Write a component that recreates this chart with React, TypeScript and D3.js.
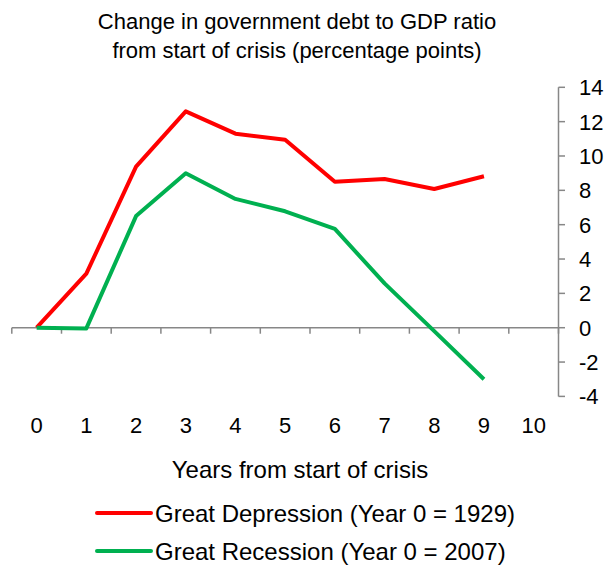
import React from "react";
import * as d3 from "d3";

const years = ["0", "1", "2", "3", "4", "5", "6", "7", "8", "9", "10"];
const depression = [0, 3.15, 9.38, 12.6, 11.3, 10.95, 8.5, 8.66, 8.08, 8.82];
const recession = [0, -0.04, 6.5, 9.0, 7.5, 6.78, 5.75, 2.58, -0.2, -3.0];
const yTicks = [-4, -2, 0, 2, 4, 6, 8, 10, 12, 14];
const seriesNames = ["Great Depression (Year 0 = 1929)", "Great Recession (Year 0 = 2007)"];
const seriesColors = ["#ff0000", "#00b050"];

export default function App() {
  const W = 616, H = 569;
  const x = d3.scaleBand<string>().domain(years).range([11.8, 558.5]);
  const y = d3.scaleLinear().domain([-4, 14]).range([396.4, 87.3]);
  const font = "Liberation Sans, Arial, sans-serif";
  const line = d3
    .line<number>()
    .x((_, i) => (x(years[i]) as number) + x.bandwidth() / 2)
    .y((d) => y(d));
  const series = [depression, recession];
  const axisColor = "#878787";
  return (
    <svg width={W} height={H} style={{ position: "absolute", left: 0, top: 0 }} fontFamily={font}>
      <rect width={W} height={H} fill="#fff" />
      <text x={297} y={29} textAnchor="middle" fontSize={22} fill="#000">
        Change in government debt to GDP ratio
      </text>
      <text x={297} y={58} textAnchor="middle" fontSize={22} fill="#000">
        from start of crisis (percentage points)
      </text>
      {/* x axis at 0 */}
      <line x1={x.range()[0]} x2={x.range()[1]} y1={y(0)} y2={y(0)} stroke={axisColor} strokeWidth={1.5} />
      {years.concat(["end"]).map((_, i) => {
        const xx = x.range()[0] + i * x.step();
        return <line key={"xt" + i} x1={xx} x2={xx} y1={y(0)} y2={y(0) + 6} stroke={axisColor} strokeWidth={1.5} />;
      })}
      {/* y axis */}
      <line x1={558.5} x2={558.5} y1={y(14)} y2={y(-4)} stroke={axisColor} strokeWidth={1.5} />
      {yTicks.map((t) => (
        <g key={"yt" + t}>
          <line x1={558.5} x2={565} y1={y(t)} y2={y(t)} stroke={axisColor} strokeWidth={1.5} />
          <text x={579} y={y(t) + 8} fontSize={22} fill="#000">
            {t}
          </text>
        </g>
      ))}
      {years.map((yr) => (
        <text key={"xl" + yr} x={(x(yr) as number) + x.bandwidth() / 2} y={433} textAnchor="middle" fontSize={22} fill="#000">
          {yr}
        </text>
      ))}
      <text x={300} y={478} textAnchor="middle" fontSize={24} fill="#000">
        Years from start of crisis
      </text>
      {series.map((s, i) => (
        <path key={"s" + i} d={line(s) || ""} fill="none" stroke={seriesColors[i]} strokeWidth={4} strokeLinejoin="round" />
      ))}
      {seriesNames.map((n, i) => (
        <g key={"lg" + i}>
          <line x1={97} x2={151} y1={513 + i * 38} y2={513 + i * 38} stroke={seriesColors[i]} strokeWidth={4} strokeLinecap="round" />
          <text x={155} y={521.5 + i * 38} fontSize={24} fill="#000">
            {n}
          </text>
        </g>
      ))}
    </svg>
  );
}
